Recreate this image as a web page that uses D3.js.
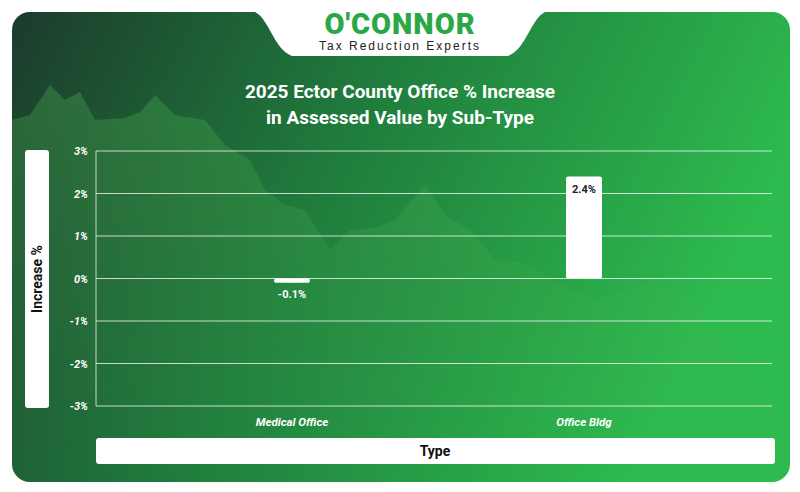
<!DOCTYPE html><html><head><meta charset="utf-8"><script src="https://cdn.jsdelivr.net/npm/d3@7"></script>
<style>body{margin:0;background:#fff}svg{display:block}</style></head><body><svg id="c" width="800" height="492"></svg><script>
const categories=["Medical Office","Office Bldg"];
const values=[-0.1,2.4];
const tickValues=[-3,-2,-1,0,1,2,3];
const svg=d3.select("#c");
const defs=svg.append("defs");
const g=defs.append("linearGradient").attr("id","bg").attr("x1","0").attr("y1","0").attr("x2","1").attr("y2","0.3");
g.append("stop").attr("offset","0").attr("stop-color","#1c3b2c");
g.append("stop").attr("offset","0.45").attr("stop-color","#1f7a3c");
g.append("stop").attr("offset","1").attr("stop-color","#2dba4e");
const g2=defs.append("linearGradient").attr("id","mt").attr("x1","0").attr("y1","0").attr("x2","0").attr("y2","1");
g2.append("stop").attr("offset","0").attr("stop-color","#4caf50").attr("stop-opacity",0.35);
g2.append("stop").attr("offset","1").attr("stop-color","#4caf50").attr("stop-opacity",0);
svg.append("rect").attr("x",12).attr("y",12).attr("width",778).attr("height",470).attr("rx",18).attr("fill","url(#bg)");
const sil=[[12,120],[30,115],[50,85],[65,100],[80,92],[95,120],[125,118],[140,112],[155,95],[175,115],[205,120],[225,145],[250,160],[265,190],[285,205],[305,210],[330,250],[350,230],[375,228],[395,220],[425,185],[445,215],[470,230],[495,260],[520,262],[545,275],[570,290],[595,300],[630,290],[660,280],[690,300],[720,340],[760,400],[790,420],[790,482],[12,482]];
svg.append("path").attr("d",d3.line()(sil)).attr("fill","url(#mt)");
svg.append("path").attr("d","M255,12 L545,12 C530,20 527,48 508,56 L292,56 C273,48 270,20 255,12Z").attr("fill","#fff");
svg.append("text").attr("x",400).attr("y",34).attr("text-anchor","middle").attr("font-family","Roboto,Arial").attr("font-weight",900).attr("font-size",29).attr("letter-spacing",1).attr("fill","#2aa845").text("O'CONNOR");
svg.append("text").attr("x",400).attr("y",50).attr("text-anchor","middle").attr("font-family","Arial,Liberation Sans").attr("font-size",12).attr("letter-spacing",2).attr("fill","#222").text("Tax Reduction Experts");
const t=svg.append("text").attr("text-anchor","middle").attr("font-family","Roboto,Arial").attr("font-weight",700).attr("font-size",19).attr("fill","#fff");
t.append("tspan").attr("x",400).attr("y",98).text("2025 Ector County Office % Increase");
t.append("tspan").attr("x",400).attr("y",124).text("in Assessed Value by Sub-Type");
const L=96,R=772;
const y=d3.scaleLinear().domain([-3,3]).range([406,151]);
const x=d3.scalePoint().domain(categories).range([146,730]).padding(0.5);
svg.append("g").selectAll("line").data(tickValues).join("line").attr("x1",L).attr("x2",R).attr("y1",d=>y(d)).attr("y2",d=>y(d)).attr("stroke","#fff").attr("stroke-opacity",0.75);
svg.append("line").attr("x1",L).attr("x2",L).attr("y1",y(3)).attr("y2",y(-3)).attr("stroke","#fff").attr("stroke-opacity",0.75);
const ax=svg.append("g").attr("transform",`translate(${L-4},0)`).call(d3.axisLeft(y).tickValues(tickValues).tickFormat(d=>d+"%").tickSize(0).tickPadding(4));
ax.select(".domain").remove();
ax.selectAll("text").attr("fill","#fff").attr("font-family","Roboto,Arial").attr("font-weight",700).attr("font-style","italic").attr("font-size",11);
const bw=36;
svg.append("g").selectAll("rect").data(values).join("rect").attr("x",(d,i)=>x(categories[i])-bw/2).attr("width",bw)
 .attr("y",d=>y(Math.max(0,d))).attr("height",d=>Math.abs(y(d)-y(0))).attr("fill","#fff").attr("rx",2);
svg.append("g").selectAll("text").data(values).join("text").attr("x",(d,i)=>x(categories[i])).attr("y",d=>d>=0?y(d)+16:y(d)+15)
 .attr("text-anchor","middle").attr("font-family","Roboto,Arial").attr("font-weight",700).attr("font-size",11).attr("fill",d=>d>=0?"#222":"#fff").text(d=>d.toFixed(1)+"%");
svg.append("g").selectAll("text").data(categories).join("text").attr("x",d=>x(d)).attr("y",426).attr("text-anchor","middle").attr("font-family","Roboto,Arial").attr("font-weight",700).attr("font-style","italic").attr("font-size",11.5).attr("fill","#fff").text(d=>d);
svg.append("rect").attr("x",25).attr("y",150).attr("width",24).attr("height",258).attr("rx",3).attr("fill","#fff");
svg.append("text").attr("transform","translate(42,279) rotate(-90)").attr("text-anchor","middle").attr("font-family","Roboto,Arial").attr("font-weight",700).attr("font-size",14).attr("fill","#111").text("Increase %");
svg.append("rect").attr("x",96).attr("y",438).attr("width",679).attr("height",26).attr("rx",3).attr("fill","#fff");
svg.append("text").attr("x",435).attr("y",456).attr("text-anchor","middle").attr("font-family","Roboto,Arial").attr("font-weight",700).attr("font-size",14).attr("fill","#111").text("Type");
</script></body></html>
